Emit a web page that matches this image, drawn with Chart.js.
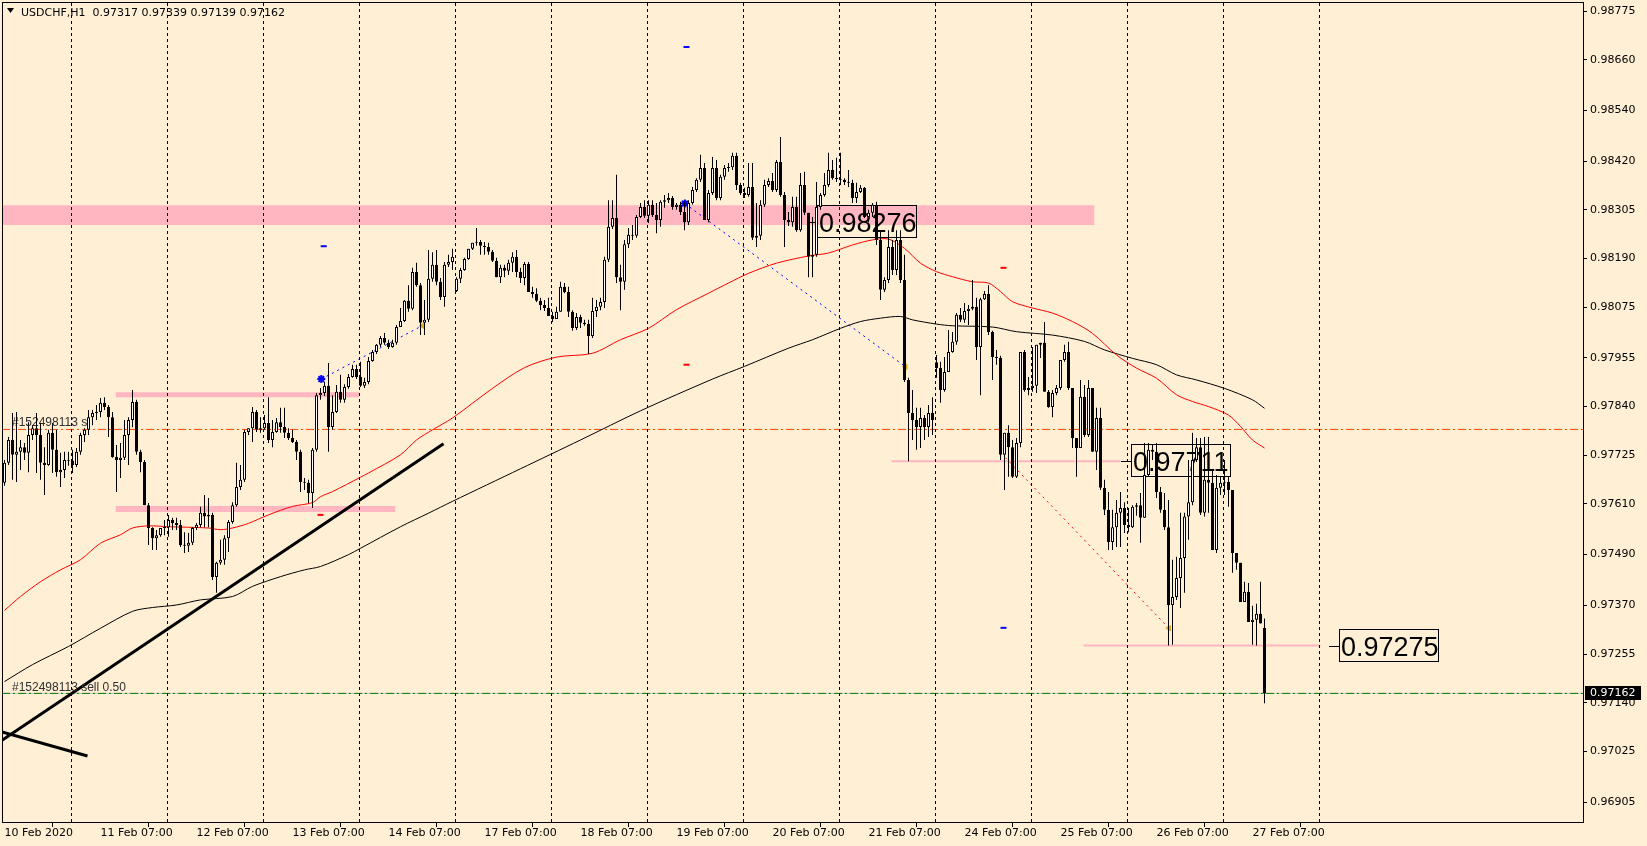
<!DOCTYPE html>
<html>
<head>
<meta charset="utf-8">
<title>USDCHF,H1</title>
<script src="https://cdn.jsdelivr.net/npm/chart.js@4.4.1/dist/chart.umd.min.js"></script>
<style>
  html, body { margin: 0; padding: 0; background: #FFEFD5; overflow: hidden; }
  #wrap { width: 1647px; height: 846px; }
</style>
</head>
<body>
<div id="wrap"><canvas id="chart" width="1647" height="846"></canvas></div>
<script>
// USDCHF H1, 10 Feb 07:00 -> 27 Feb 10:00, prices in points (1e-5)
const openP = [
  97660,97707,97761,97726,97733,97744,97731,97773,97789,97773,97707,97702,
  97778,97738,97685,97690,97714,97712,97702,97733,97773,97785,97815,97825,
  97827,97849,97839,97815,97721,97714,97719,97773,97808,97851,97733,97709,
  97607,97553,97529,97536,97553,97555,97572,97565,97560,97513,97511,97518,
  97553,97560,97589,97580,97584,97437,97471,97478,97529,97567,97607,97650,
  97667,97780,97789,97827,97785,97789,97801,97761,97780,97803,97792,97778,
  97766,97756,97733,97662,97660,97636,97738,97867,97872,97889,97792,97827,
  97875,97856,97886,97910,97929,97910,97889,97898,97948,97969,97986,98002,
  97991,97981,97991,98028,98042,98090,98071,98158,98127,98038,98045,98142,
  98175,98135,98099,98175,98182,98113,98142,98163,98189,98213,98227,98229,
  98220,98217,98206,98185,98146,98168,98161,98180,98194,98158,98144,98177,
  98111,98106,98090,98080,98073,98054,98047,98064,98123,98111,98064,98026,
  98052,98038,98035,98007,98066,98076,98087,98187,98265,98286,98146,98135,
  98224,98246,98244,98288,98312,98291,98317,98293,98281,98324,98328,98333,
  98312,98317,98300,98276,98321,98352,98376,98404,98281,98345,98404,98333,
  98383,98404,98406,98433,98364,98345,98340,98359,98239,98244,98317,98364,
  98373,98352,98418,98340,98281,98276,98312,98257,98364,98298,98194,98199,
  98312,98340,98364,98399,98380,98378,98376,98371,98369,98333,98347,98357,
  98288,98298,98317,98234,98116,98139,98217,98163,98234,98139,97903,97825,
  97808,97792,97813,97792,97825,97945,97931,97879,97922,97969,97993,98057,
  98045,98066,98071,98076,97981,98094,98106,98016,97957,97955,97726,97778,
  97744,97674,97754,97969,97879,97884,97889,97986,97991,97875,97839,97872,
  97884,97950,97969,97884,97766,97742,97863,97773,97884,97733,97813,97648,
  97596,97520,97555,97589,97600,97560,97555,97603,97607,97577,97678,97738,
  97733,97638,97596,97555,97371,97390,97435,97482,97580,97614,97714,97744,
  97589,97667,97660,97501,97648,97660,97662,97643,97494,97471,97378,97402,
  97331,97336,97350,97317
];
const highP = [
  97714,97768,97825,97827,97761,97754,97803,97796,97825,97801,97744,97785,
  97801,97785,97731,97733,97733,97738,97742,97778,97789,97832,97832,97844,
  97860,97862,97844,97827,97749,97754,97808,97815,97879,97856,97738,97714,
  97612,97555,97548,97553,97572,97584,97577,97577,97572,97543,97541,97555,
  97565,97603,97631,97624,97589,97473,97525,97536,97572,97614,97707,97702,
  97785,97789,97839,97832,97815,97820,97862,97808,97813,97837,97837,97789,
  97785,97761,97738,97671,97667,97742,97872,97884,97898,97943,97867,97891,
  97915,97893,97917,97939,97939,97946,97908,97957,97974,97988,98007,98014,
  97998,97998,98033,98073,98092,98127,98168,98180,98132,98092,98210,98205,
  98210,98144,98182,98199,98213,98146,98168,98192,98213,98227,98262,98234,
  98229,98227,98210,98192,98175,98175,98187,98205,98210,98168,98182,98182,
  98123,98120,98097,98092,98097,98064,98076,98135,98132,98123,98068,98061,
  98057,98045,98045,98097,98092,98097,98194,98328,98328,98388,98175,98234,
  98262,98269,98293,98321,98328,98328,98328,98321,98328,98340,98345,98338,
  98321,98324,98324,98328,98359,98380,98435,98416,98352,98430,98423,98388,
  98411,98416,98440,98440,98369,98357,98416,98416,98321,98328,98376,98380,
  98392,98423,98477,98347,98300,98336,98336,98392,98395,98298,98288,98371,
  98345,98392,98440,98423,98428,98440,98380,98399,98376,98369,98364,98359,
  98305,98321,98324,98253,98146,98257,98234,98257,98257,98199,97908,97879,
  97837,97837,97820,97844,97862,97962,97946,97957,98021,98016,98061,98073,
  98085,98080,98139,98097,98097,98113,98127,98019,97974,97960,97778,97796,
  97761,97766,97969,97974,97910,97981,97986,97991,98040,97879,97879,97891,
  97950,97986,97993,97884,97766,97903,97891,97903,97884,97837,97837,97667,
  97638,97596,97619,97638,97614,97600,97607,97612,97636,97754,97754,97749,
  97754,97650,97636,97619,97478,97485,97589,97589,97714,97778,97766,97766,
  97768,97768,97690,97678,97676,97714,97676,97643,97494,97471,97426,97423,
  97369,97374,97426,97339
];
const lowP = [
  97653,97702,97667,97662,97690,97714,97685,97761,97683,97667,97631,97700,
  97683,97674,97650,97671,97700,97683,97697,97726,97756,97773,97796,97808,
  97815,97832,97768,97719,97638,97671,97714,97702,97791,97726,97685,97607,
  97513,97501,97501,97532,97536,97532,97548,97548,97508,97494,97496,97513,
  97548,97555,97555,97555,97430,97400,97466,97466,97496,97563,97603,97643,
  97662,97773,97756,97780,97778,97785,97754,97744,97778,97778,97766,97761,
  97754,97714,97638,97643,97612,97600,97733,97856,97865,97733,97785,97825,
  97849,97849,97882,97908,97905,97886,97884,97893,97946,97964,97981,97986,
  97976,97979,97986,98028,98040,98064,98068,98123,98009,98009,98040,98135,
  98127,98092,98076,98170,98163,98111,98132,98161,98187,98210,98220,98199,
  98199,98199,98182,98146,98132,98146,98151,98158,98146,98132,98127,98111,
  98097,98087,98068,98066,98054,98040,98047,98064,98108,98052,98019,98021,
  98026,98031,97964,98002,98052,98068,98073,98182,98260,98132,98068,98116,
  98215,98234,98239,98286,98286,98274,98288,98250,98265,98310,98321,98305,
  98305,98293,98257,98269,98317,98347,98371,98281,98276,98340,98328,98328,
  98376,98395,98399,98352,98340,98333,98336,98234,98217,98234,98312,98359,
  98347,98347,98336,98217,98267,98265,98253,98253,98293,98146,98146,98194,
  98305,98336,98359,98376,98371,98364,98364,98359,98321,98321,98345,98286,
  98276,98288,98222,98092,98111,98132,98151,98151,98132,97898,97711,97761,
  97738,97742,97761,97768,97773,97908,97849,97875,97922,97967,97986,98040,
  98038,98033,98068,97950,97867,98092,98009,97903,97939,97714,97643,97674,
  97671,97671,97744,97875,97867,97875,97872,97955,97875,97837,97815,97867,
  97879,97946,97879,97742,97674,97742,97768,97768,97733,97690,97643,97584,
  97501,97501,97508,97508,97541,97543,97553,97582,97518,97577,97674,97714,
  97624,97589,97548,97275,97277,97383,97364,97400,97525,97607,97709,97584,
  97580,97589,97501,97494,97631,97631,97603,97447,97454,97378,97378,97331,
  97277,97275,97327,97139
];
const closeP = [
  97707,97761,97726,97733,97744,97731,97773,97789,97773,97707,97702,97778,
  97738,97685,97690,97714,97712,97702,97733,97773,97785,97815,97825,97827,
  97849,97839,97815,97721,97714,97719,97773,97808,97851,97733,97709,97607,
  97553,97529,97536,97553,97555,97572,97565,97560,97513,97511,97518,97553,
  97560,97589,97580,97584,97437,97471,97478,97529,97567,97607,97650,97667,
  97780,97789,97827,97785,97789,97801,97761,97780,97803,97792,97778,97766,
  97756,97733,97662,97660,97636,97738,97867,97872,97889,97792,97827,97875,
  97856,97886,97910,97929,97910,97889,97898,97948,97969,97986,98002,97991,
  97981,97991,98028,98042,98090,98071,98158,98127,98038,98045,98142,98175,
  98135,98099,98175,98182,98194,98142,98163,98189,98213,98227,98229,98220,
  98217,98206,98185,98146,98168,98161,98180,98194,98158,98144,98177,98111,
  98106,98090,98080,98073,98054,98047,98064,98123,98111,98064,98026,98052,
  98038,98035,98007,98066,98076,98087,98187,98265,98286,98146,98135,98224,
  98246,98244,98288,98312,98291,98317,98293,98281,98324,98328,98333,98312,
  98317,98300,98276,98321,98352,98376,98404,98281,98345,98404,98333,98383,
  98404,98406,98433,98364,98345,98340,98359,98239,98244,98317,98364,98373,
  98352,98418,98340,98281,98276,98312,98257,98364,98298,98194,98199,98312,
  98340,98364,98399,98380,98378,98376,98371,98369,98333,98347,98357,98288,
  98298,98317,98234,98116,98139,98217,98163,98234,98139,97903,97825,97808,
  97792,97813,97792,97825,97808,97931,97879,97922,97969,97993,98057,98045,
  98066,98071,98076,97981,98094,98106,98016,97957,97955,97726,97778,97744,
  97674,97754,97969,97879,97884,97889,97986,97991,97875,97839,97872,97884,
  97950,97969,97884,97766,97742,97863,97773,97884,97733,97813,97648,97596,
  97520,97555,97589,97600,97560,97555,97603,97607,97577,97678,97738,97733,
  97638,97596,97555,97371,97390,97435,97482,97580,97614,97714,97744,97589,
  97667,97660,97501,97648,97660,97662,97643,97494,97471,97378,97402,97331,
  97336,97350,97327,97162
];

// moving averages (bar index, price points)
const maRedX = [0,4,9,14,19,24,29,32,36,41,51,54,57,61,66,72,77,79,82,89,91,99,103,107,112,122,130,138,147,154,161,168,176,181,186,193,201,206,212,217,221,225,229,233,237,242,246,249,252,257,262,267,272,278,283,288,293,297,301,306,309,312,315];
const maRedY = [97358,97391,97426,97454,97478,97517,97537,97553,97558,97556,97553,97549,97553,97564,97584,97604,97613,97627,97639,97673,97683,97726,97761,97785,97813,97883,97932,97957,97966,97998,98025,98069,98108,98132,98155,98179,98196,98203,98222,98234,98236,98214,98179,98159,98147,98135,98132,98112,98088,98073,98061,98041,98013,97962,97931,97907,97868,97852,97840,97820,97793,97761,97742];
const maBlkX = [0,7,16,24,32,37,43,49,57,62,69,75,79,86,89,99,106,112,129,144,159,177,185,196,202,209,214,219,224,227,233,237,247,253,262,270,275,282,288,293,298,305,312,315];
const maBlkY = [97190,97230,97273,97316,97356,97365,97371,97383,97391,97415,97438,97454,97462,97490,97505,97556,97588,97616,97693,97761,97830,97905,97935,97978,97998,98025,98041,98049,98053,98045,98035,98031,98028,98017,98009,97994,97974,97954,97939,97915,97903,97883,97856,97836];

// axis
const xLabels = ["10 Feb 2020","11 Feb 07:00","12 Feb 07:00","13 Feb 07:00","14 Feb 07:00","17 Feb 07:00","18 Feb 07:00","19 Feb 07:00","20 Feb 07:00","21 Feb 07:00","24 Feb 07:00","25 Feb 07:00","26 Feb 07:00","27 Feb 07:00"];
const xLabelIdx = [0,24,48,72,96,120,144,168,192,216,240,264,288,312];
const daySep = [17,41,65,89,113,137,161,185,209,233,257,281,305,329];
const yTicks = [0.98775,0.98660,0.98540,0.98420,0.98305,0.98190,0.98075,0.97955,0.97840,0.97725,0.97610,0.97490,0.97370,0.97255,0.97140,0.97025,0.96905];
const xMin = -0.625, xMax = 394.625, yMin = 0.96858, yMax = 0.98794;

// objects on the chart
const zoneTop = [98316, 97874, 97605];
const zoneBot = [98269, 97862, 97591];
const zoneFrom = [-0.625, 27.75, 27.75];
const zoneTo = [272.5, 88.75, 97.75];
const trendX = [[-0.625, 109.75], [-0.625, 20.75]];
const trendY = [[97051, 97752], [97071, 97014]];
const tradeX = [[79.2, 104.4], [170.1, 225.25], [250.25, 291.1]];
const tradeY = [[97905, 98031], [98320, 97934], [97719, 97316]];
const levelPrice = [97711, 97275];
const levelFrom = [221.75, 269.75];
const levelTo = [279, 329];
const tagPrice = [98276, 97711, 97275];
const tagAt = [200.7, 279, 331];
const slPrice = 97786;
const sellPrice = 97162;
const markX = [170.5, 79.8, 249.75, 170.5, 79, 249.75];
const markY = [98690, 98219, 98168, 97939, 97584, 97317];
const markCol = ['#0000ff', '#0000ff', '#ff0000', '#ff0000', '#ff0000', '#0000ff'];

const P = v => v / 1e5;
const last = closeP.length - 1;
const bidPrice = closeP[last];

const wickData = lowP.map((l, i) => ({ x: i, y: [P(l), P(highP[i])] }));
const bodyData = openP.map((o, i) => ({ x: i, y: [P(o), P(closeP[i])] }));
const bodyFill = openP.map((o, i) => closeP[i] > o ? '#ffffff' : '#000000');

function seg(xs, ys) { return xs.map((v, i) => ({ x: v, y: P(ys[i]) })); }
function lineSet(label, data, color, width, dash, order) {
  return { type: 'line', label, data, borderColor: color, borderWidth: width, borderDash: dash || [],
    pointRadius: 0, fill: false, tension: 0, order };
}

const datasets = [
  { type: 'bar', label: 'bodies', data: bodyData, backgroundColor: bodyFill, borderColor: '#000000',
    borderWidth: 1, borderSkipped: false, minBarLength: 1, inflateAmount: 0,
    barPercentage: 0.75, categoryPercentage: 1, grouped: false, order: 0 },
  { type: 'bar', label: 'wicks', data: wickData, backgroundColor: '#000000', borderWidth: 0,
    minBarLength: 1, inflateAmount: 0, barPercentage: 0.25, categoryPercentage: 1, grouped: false, order: 1 }
];

// MAs
datasets.push(Object.assign(lineSet('ma100', seg(maRedX, maRedY), '#ff0000', 1, null, 3), { tension: 0.3 }));
datasets.push(Object.assign(lineSet('ma200', seg(maBlkX, maBlkY), '#000000', 1, null, 3), { tension: 0.3 }));
// trendlines
trendX.forEach((xs, k) => datasets.push(lineSet('trend' + k, seg(xs, trendY[k]), '#000000', 3, null, 4)));
// trade lines
tradeX.forEach((xs, k) => datasets.push(lineSet('trade' + k, seg(xs, tradeY[k]), k < 2 ? '#0000ff' : '#ff0000', 1, [2, 4], 4)));
// horizontal levels
levelPrice.forEach((p, k) => datasets.push(lineSet('level' + k, seg([levelFrom[k], levelTo[k]], [p, p]), '#ffb6c1', 2, null, 5)));
datasets.push(lineSet('bid', seg([xMin, xMax], [bidPrice, bidPrice]), '#c0c0c0', 1, null, 6));
datasets.push(lineSet('sell', seg([xMin, xMax], [sellPrice, sellPrice]), '#008000', 1, [8, 3, 2, 3], 5));
datasets.push(lineSet('sl', seg([xMin, xMax], [slPrice, slPrice]), '#ff4500', 1, [8, 3, 2, 3], 5));
// markers
datasets.push({ type: 'line', label: 'opens', showLine: false, order: 2,
  data: tradeX.slice(0, 2).map((xs, k) => ({ x: xs[0], y: P(tradeY[k][0]) })),
  pointStyle: 'star', pointRadius: 4, pointBorderColor: '#0000ff', pointBorderWidth: 2 });
datasets.push({ type: 'line', label: 'closes', showLine: false, order: 2,
  data: tradeX.map((xs, k) => ({ x: xs[1], y: P(tradeY[k][1]) })),
  pointStyle: 'triangle', rotation: -90, pointRadius: 3, pointBackgroundColor: '#daa520', pointBorderColor: '#daa520', pointBorderWidth: 1 });
datasets.push({ type: 'line', label: 'stops', showLine: false, order: 2,
  data: seg(markX, markY), pointStyle: 'line', pointRadius: 3, pointBorderColor: markCol, pointBorderWidth: 2 });
// zones (top line filled down to the bottom line)
zoneTop.forEach((t, k) => {
  datasets.push({ type: 'line', label: 'zoneTop' + k, data: seg([zoneFrom[k], zoneTo[k]], [t, t]),
    borderColor: 'transparent', borderWidth: 0, pointRadius: 0, backgroundColor: '#ffb6c1', fill: '+1', order: 9 });
  datasets.push({ type: 'line', label: 'zoneBot' + k, data: seg([zoneFrom[k], zoneTo[k]], [zoneBot[k], zoneBot[k]]),
    borderColor: 'transparent', borderWidth: 0, pointRadius: 0, fill: false, order: 9 });
});

const mt4 = {
  id: 'mt4',
  beforeDraw(chart) {
    const ctx = chart.ctx;
    ctx.save();
    ctx.fillStyle = '#FFEFD5';
    ctx.fillRect(0, 0, chart.width, chart.height);
    ctx.restore();
  },
  beforeDatasetDraw(chart, args) {
    if (chart.data.datasets[args.index].label !== 'wicks') return;
    const { ctx, chartArea: a, scales: { x, y } } = chart;
    ctx.save();
    // day separators
    ctx.strokeStyle = '#000000';
    ctx.lineWidth = 1;
    ctx.setLineDash([3, 3]);
    daySep.forEach(d => {
      const px = Math.floor(x.getPixelForValue(d)) - 0.5;
      ctx.beginPath(); ctx.moveTo(px, a.top); ctx.lineTo(px, a.bottom); ctx.stroke();
    });
    ctx.setLineDash([]);
    // price tags
    ctx.font = '27px "Liberation Sans"';
    ctx.fillStyle = '#000000';
    tagPrice.forEach((p, k) => {
      const ax = Math.round(x.getPixelForValue(tagAt[k]));
      const py = Math.round(y.getPixelForValue(P(p)));
      ctx.beginPath(); ctx.moveTo(ax, py + 0.5); ctx.lineTo(ax + 10, py + 0.5); ctx.stroke();
      ctx.strokeRect(ax + 10.5, py - 16.5, 99, 32);
      ctx.fillText(P(p).toFixed(5), ax + 12, py + 10);
    });
    // order labels
    ctx.font = '12px "Liberation Sans"';
    ctx.fillStyle = '#303030';
    ctx.fillText('#152498113 sl', 12, y.getPixelForValue(P(slPrice)) - 3);
    ctx.fillText('#152498113 sell 0.50', 12, y.getPixelForValue(P(sellPrice)) - 2);
    ctx.restore();
  },
  afterDraw(chart) {
    const { ctx, chartArea: a, scales: { y } } = chart;
    ctx.save();
    ctx.strokeStyle = '#000000';
    ctx.lineWidth = 1;
    ctx.strokeRect(a.left + 0.5, a.top - 0.5, a.right - a.left, a.bottom - a.top + 1);
    // bid box
    const yb = Math.round(y.getPixelForValue(P(bidPrice)));
    ctx.fillStyle = '#000000';
    ctx.fillRect(a.right + 2, yb - 7, 56, 14);
    ctx.fillStyle = '#ffffff';
    ctx.font = '11px "DejaVu Sans"';
    ctx.textBaseline = 'middle';
    ctx.fillText(P(bidPrice).toFixed(5), a.right + 7, yb);
    // header
    ctx.fillStyle = '#000000';
    ctx.beginPath(); ctx.moveTo(7, 8); ctx.lineTo(14, 8); ctx.lineTo(10.5, 13); ctx.closePath(); ctx.fill();
    ctx.textBaseline = 'alphabetic';
    const hdr = 'USDCHF,H1  ' + [openP[last], highP[last], lowP[last], closeP[last]].map(v => P(v).toFixed(5)).join(' ');
    ctx.fillText(hdr, 21, 16);
    ctx.restore();
  }
};

Chart.defaults.font.family = '"DejaVu Sans"';
Chart.defaults.font.size = 11;
Chart.defaults.color = '#000000';

new Chart(document.getElementById('chart'), {
  type: 'bar',
  data: { datasets },
  options: {
    responsive: false,
    devicePixelRatio: 1,
    animation: false,
    events: [],
    layout: { autoPadding: false, padding: { left: 2, top: 3, right: 0, bottom: 0 } },
    plugins: { legend: { display: false }, tooltip: { enabled: false } },
    scales: {
      x: {
        type: 'linear', position: 'bottom', min: xMin, max: xMax, offset: false,
        afterBuildTicks: s => { s.ticks = xLabelIdx.map(v => ({ value: v })); },
        afterFit: s => { s.height = 24; s.paddingLeft = 0; s.paddingRight = 0; },
        ticks: { autoSkip: false, maxRotation: 0, minRotation: 0, align: 'start', padding: 0,
          callback: (v, i) => xLabels[i] },
        grid: { drawOnChartArea: false, drawTicks: true, tickLength: 5, tickColor: '#000000', color: '#000000' },
        border: { display: false }
      },
      y: {
        type: 'linear', position: 'right', min: yMin, max: yMax,
        afterBuildTicks: s => { s.ticks = yTicks.map(v => ({ value: v })); },
        afterFit: s => { s.width = 64; s.paddingTop = 0; s.paddingBottom = 0; },
        ticks: { padding: 3, callback: v => v.toFixed(5) },
        grid: { drawOnChartArea: false, drawTicks: true, tickLength: 4, tickColor: '#000000' },
        border: { display: false }
      }
    }
  },
  plugins: [mt4]
});
</script>
</body>
</html>
